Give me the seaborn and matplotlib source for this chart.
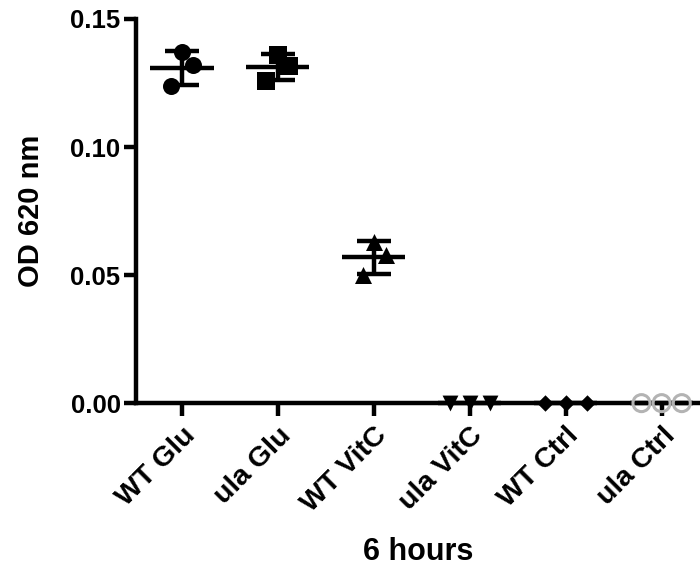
import matplotlib
matplotlib.use("Agg")
import matplotlib.pyplot as plt
import seaborn as sns
import numpy as np
import pandas as pd

categories = ["WT Glu", "ula Glu", "WT VitC", "ula VitC", "WT Ctrl", "ula Ctrl"]
wt_glu = [0.1371, 0.1320, 0.1238]
ula_glu = [0.1359, 0.1316, 0.1258]
wt_vitc = [0.0629, 0.0578, 0.0500]
ula_vitc = [0.0, 0.0, 0.0]
wt_ctrl = [0.0, 0.0, 0.0]
ula_ctrl = [0.0, 0.0, 0.0]
y_ticks = [0.00, 0.05, 0.10, 0.15]

series = [wt_glu, ula_glu, wt_vitc, ula_vitc, wt_ctrl, ula_ctrl]
# horizontal spread of the replicate points (style)
offsets = [[0.0, 0.12, -0.11], [0.0, 0.12, -0.12], [0.0, 0.13, -0.11],
           [-0.21, 0.0, 0.21], [-0.22, 0.0, 0.22], [-0.21, 0.0, 0.21]]
markers = ["o", "s", "^", "v", "D", "o"]
sizes = [150, 150, 150, 130, 70, 150]

rows = []
for i, (cat, vals) in enumerate(zip(categories, series)):
    for j, v in enumerate(vals):
        rows.append({"group": cat, "idx": i, "x": i + offsets[i][j], "OD": v})
df = pd.DataFrame(rows)

sns.set_theme(style="ticks")
plt.rcParams["font.family"] = ["Liberation Sans", "DejaVu Sans"]
plt.rcParams["font.weight"] = "bold"
plt.rcParams["text.color"] = "black"
plt.rcParams["axes.labelcolor"] = "black"
plt.rcParams["xtick.color"] = "black"
plt.rcParams["ytick.color"] = "black"

fig = plt.figure(figsize=(7.0, 5.67), dpi=100)
ax = fig.add_axes([0.194, 0.289, 0.806, 0.6775])

for i, cat in enumerate(categories):
    sub = df[df["group"] == cat]
    if cat == "ula Ctrl":
        sns.scatterplot(data=sub, x="x", y="OD", marker="o", s=sizes[i],
                        facecolor="none", edgecolor="#b3b3b3", linewidth=2.2,
                        ax=ax, clip_on=False, zorder=4, legend=False)
    else:
        sns.scatterplot(data=sub, x="x", y="OD", marker=markers[i], s=sizes[i],
                        color="black", edgecolor="black", linewidth=0,
                        ax=ax, clip_on=False, zorder=4, legend=False)

stats = df.groupby("idx")["OD"].agg(["mean", "std"]).reset_index()
for _, r in stats.iterrows():
    i = r["idx"]
    ax.hlines(r["mean"], i - 0.33, i + 0.33, color="black", linewidth=3.2, zorder=3,
              clip_on=False)
    if r["std"] > 0:
        ax.errorbar(i, r["mean"], yerr=r["std"], fmt="none", ecolor="black",
                    elinewidth=3.2, capsize=12, capthick=3.2, zorder=3)

ax.set_xlim(-0.48, 5.4)
ax.set_ylim(0, 0.15)
ax.set_yticks(y_ticks)
ax.set_yticklabels([f"{t:.2f}" for t in y_ticks], fontsize=18.5, fontweight="bold")
ax.set_xticks(range(len(categories)))
ax.set_xticklabels(categories, fontsize=20.5, fontweight="bold", rotation=45,
                   ha="right", rotation_mode="anchor")
ax.tick_params(axis="both", length=9, width=3.2, color="black", pad=2)
ax.tick_params(axis="x", pad=5)
for side in ["top", "right"]:
    ax.spines[side].set_visible(False)
for side in ["left", "bottom"]:
    ax.spines[side].set_linewidth(3.2)
    ax.spines[side].set_color("black")
ax.set_xlabel("6 hours", fontsize=22, fontweight="bold", labelpad=14)
ax.set_ylabel("OD 620 nm", fontsize=21, fontweight="bold", labelpad=18)
ax.set_facecolor("white")
fig.patch.set_facecolor("white")

fig.savefig("out.png", dpi=100)
